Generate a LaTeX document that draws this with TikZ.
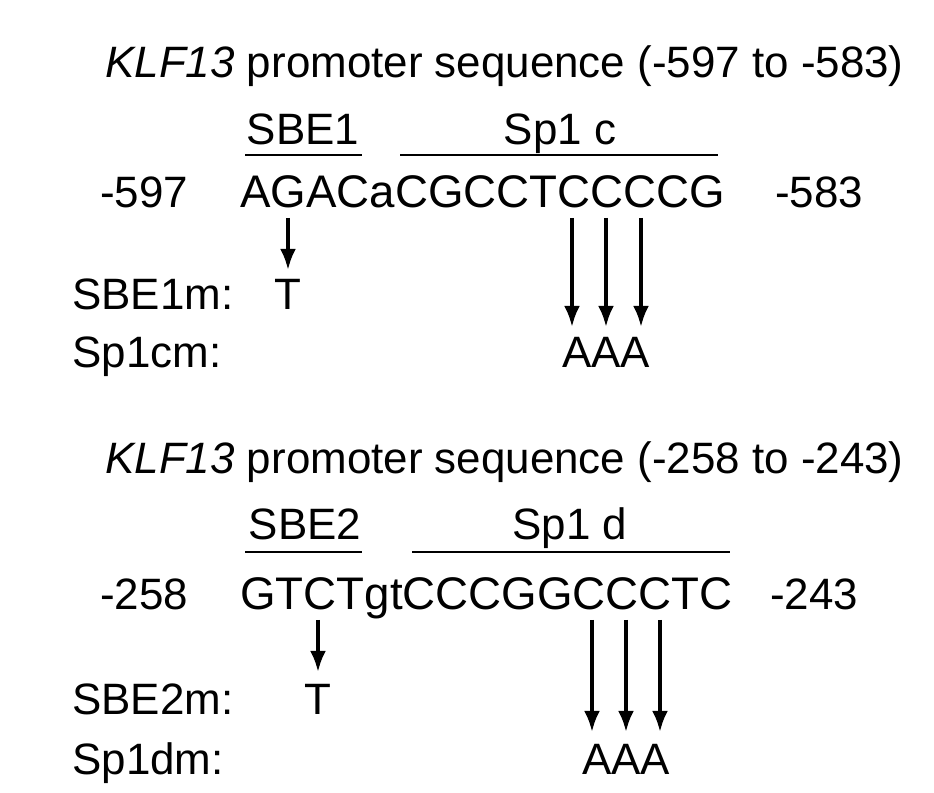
\documentclass[tikz,border=0pt]{standalone}
\usepackage{fontspec}
\setmainfont{Liberation Sans}
\usetikzlibrary{arrows.meta}
\tikzset{
  seq/.style={anchor=base west, inner sep=0pt, font=\fontsize{25}{28}\selectfont},
  dna/.style={seq, font=\fontsize{26}{28}\selectfont},
  lbl/.style={anchor=base, inner sep=0pt, font=\fontsize{25}{28}\selectfont},
  site/.style={line width=1.5pt},
  mut/.style={line width=2pt, -{Latex[length=12pt,width=9pt]}}
}
\begin{document}
\begin{tikzpicture}[x=0.02cm, y=-0.02cm]
    \useasboundingbox (0,0) rectangle (934,793);

    % Block 1: -597 to -583
    \node[seq] (title1) at (105,78) {\textit{KLF13} promoter sequence (-597 to -583)};
    \node[lbl] (sbe1) at (303,145) {SBE1};
    \node[lbl] (sp1c) at (560,145) {Sp1 c};
    \draw[site] (245,155) -- (362,155);
    \draw[site] (400,155) -- (718,155);
    \node[seq] (pos597) at (100,208) {-597};
    \node[dna] (seq1) at (240,208) {AGACaCGCCTCCCCG};
    \node[seq] (pos583) at (775,208) {-583};
    \node[seq] (sbe1m) at (72,310) {SBE1m:};
    \node[lbl] (t1) at (288,310) {T};
    \node[seq] (sp1cm) at (72,368) {Sp1cm:};
    \node[lbl] (aaa1) at (606,368) {AAA};
    \draw[mut] (288,218) -- (288,270);
    \foreach \x in {572,606,641} {
        \draw[mut] (\x,218) -- (\x,327);
    }

    % Block 2: -258 to -243
    \node[seq] (title2) at (105,474) {\textit{KLF13} promoter sequence (-258 to -243)};
    \node[lbl] (sbe2) at (305,540) {SBE2};
    \node[lbl] (sp1d) at (570,540) {Sp1 d};
    \draw[site] (245,552) -- (362,552);
    \draw[site] (412,552) -- (730,552);
    \node[seq] (pos258) at (100,610) {-258};
    \node[dna] (seq2) at (240,610) {GTCTgtCCCGGCCCTC};
    \node[seq] (pos243) at (770,610) {-243};
    \node[seq] (sbe2m) at (72,715) {SBE2m:};
    \node[lbl] (t2) at (318,715) {T};
    \node[seq] (sp1dm) at (72,775) {Sp1dm:};
    \node[lbl] (aaa2) at (626,775) {AAA};
    \draw[mut] (318,620) -- (318,672);
    \foreach \x in {592,626,660} {
        \draw[mut] (\x,620) -- (\x,732);
    }
\end{tikzpicture}
\end{document}
